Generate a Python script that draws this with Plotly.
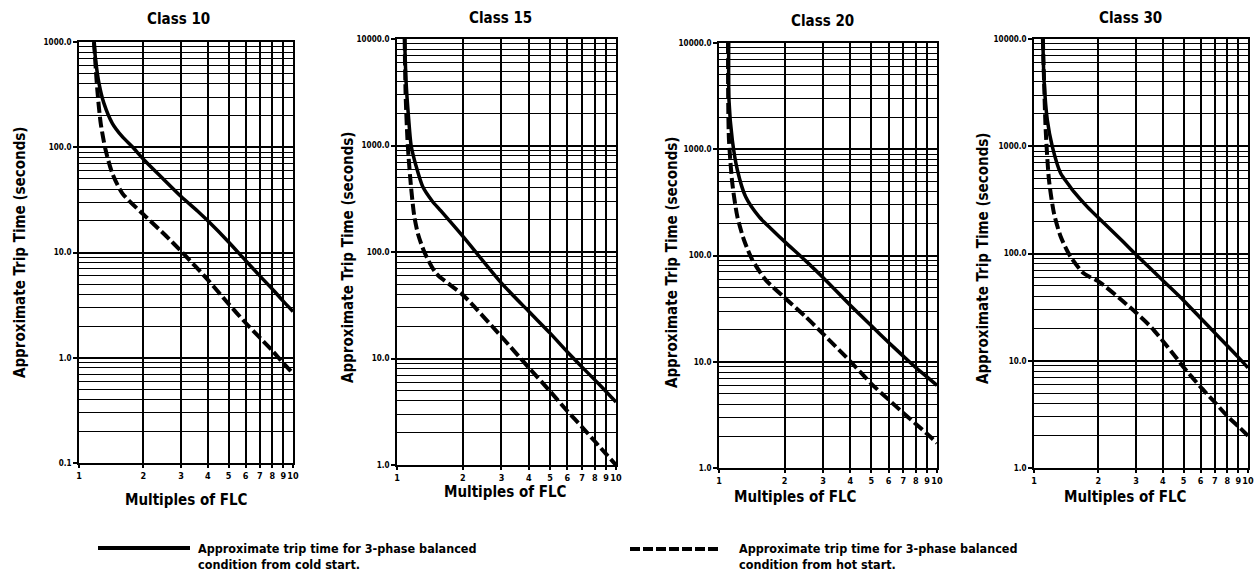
import math
import plotly.graph_objects as go

# ---------------- data ----------------
class_titles = ["Class 10", "Class 15", "Class 20", "Class 30"]

x_tick_vals = [1, 2, 3, 4, 5, 6, 7, 8, 9, 10]
x_tick_text = ["1", "2", "3", "4", "5", "6", "7", "8", "9", "10"]

y_range_c10 = [0.1, 1000]
y_range_c15 = [1, 10000]
y_range_c20 = [1, 10000]
y_range_c30 = [1, 10000]

# Class 10
c10_cold_x = [1.175, 1.196, 1.24, 1.308, 1.431, 1.594, 1.775, 2.0, 2.45, 3.0, 3.64, 4, 5, 6, 7, 8, 9, 10]
c10_cold_y = [1000, 674, 405, 261, 169, 126, 101, 77, 51, 34, 24, 20, 12.6, 8.4, 6.0, 4.5, 3.45, 2.75]
c10_hot_x = [1.175, 1.218, 1.263, 1.332, 1.431, 1.594, 2.0, 2.54, 3, 4, 5, 6, 7, 8, 9, 10]
c10_hot_y = [1000, 350, 169, 94, 56.5, 36.5, 23, 14.5, 10.3, 5.5, 3.25, 2.15, 1.55, 1.17, 0.89, 0.71]

# Class 15
c15_cold_x = [1.084, 1.10, 1.13, 1.16, 1.22, 1.31, 1.45, 1.57, 2, 3, 4, 5, 6, 7, 8, 9, 10]
c15_cold_y = [10000, 4000, 1800, 1000, 650, 412, 300, 249, 140, 51, 27.6, 17.3, 11.5, 8.3, 6.3, 4.9, 3.9]
c15_hot_x = [1.084, 1.095, 1.12, 1.16, 1.2, 1.25, 1.34, 1.51, 2, 3, 4, 5, 6, 7, 8, 9, 10]
c15_hot_y = [10000, 3000, 1000, 400, 215, 145, 97.5, 63, 39.5, 16, 8.2, 4.92, 3.2, 2.27, 1.67, 1.27, 1.0]

# Class 20
c20_cold_x = [1.108, 1.111, 1.151, 1.214, 1.325, 1.526, 1.757, 2, 2.5, 3, 4, 5, 6, 7, 8, 9, 10]
c20_cold_y = [10000, 2910, 1222, 638, 357, 232, 174, 135, 89, 62, 34, 21.8, 15.2, 11.3, 8.8, 7.2, 6.0]
c20_hot_x = [1.1, 1.102, 1.111, 1.151, 1.214, 1.302, 1.422, 1.637, 2, 2.5, 3, 4, 5, 6, 7, 8, 9, 10]
c20_hot_y = [10000, 2900, 1222, 478, 232, 140, 91, 59, 40, 26.5, 18.3, 10.1, 6.2, 4.4, 3.3, 2.6, 2.1, 1.72]

# Class 30
c30_cold_x = [1.10, 1.114, 1.154, 1.218, 1.332, 1.45, 1.538, 1.775, 2.05, 2.54, 3.04, 4, 5, 6, 7, 8, 9, 10]
c30_cold_y = [10000, 4150, 1758, 991, 560, 440, 375, 272, 205, 136, 95, 56, 36.5, 25, 18.2, 13.8, 10.8, 8.6]
c30_hot_x = [1.10, 1.114, 1.134, 1.175, 1.24, 1.332, 1.483, 1.713, 2, 2.5, 3, 3.55, 4, 4.65, 5, 6, 7, 8, 9, 10]
c30_hot_y = [10000, 4150, 1418, 484, 237, 144, 93, 65, 55, 38.5, 28, 20.3, 15.3, 10.5, 8.7, 5.7, 4.1, 3.05, 2.45, 2.0]

legend_cold_text = "Approximate trip time for 3-phase balanced<br>condition from cold start."
legend_hot_text = "Approximate trip time for 3-phase balanced<br>condition from hot start."
x_title = "Multiples of FLC"
y_title = "Approximate Trip Time (seconds)"

# ---------------- layout / styling ----------------
W, H = 1256, 581
FONT = "Liberation Sans Narrow, Arial Narrow, DejaVu Sans Condensed, Liberation Sans, sans-serif"

# panel pixel boxes in page pixels: left, right, top, bottom
boxes = [(79, 293, 42, 463), (397, 616, 39, 465), (719, 937, 43, 468), (1034, 1248, 39, 468)]
title_pos = [(178, 19), (500, 18), (822, 21), (1130, 18)]
xtitle_pos = [(186, 500), (505, 492), (795, 497), (1125, 497)]
ytitle_pos = [(20, 252), (348, 257), (672, 262), (983, 258)]
y_ranges = [y_range_c10, y_range_c15, y_range_c20, y_range_c30]
colds = [(c10_cold_x, c10_cold_y), (c15_cold_x, c15_cold_y), (c20_cold_x, c20_cold_y), (c30_cold_x, c30_cold_y)]
hots = [(c10_hot_x, c10_hot_y), (c15_hot_x, c15_hot_y), (c20_hot_x, c20_hot_y), (c30_hot_x, c30_hot_y)]


def px_x(p):
    return p / W


def px_y(p):
    return 1 - p / H


def decade_vals(lo, hi):
    major, minor = [], []
    v = lo
    while v <= hi * 1.0001:
        major.append(v)
        if v < hi * 0.999:
            for k in range(2, 10):
                minor.append(round(v * k, 6))
        v = round(v * 10, 6)
    return major, minor


def text_ann(text, x, y, size, angle=0, xanchor="center", align="center"):
    return dict(text=text, x=px_x(x), y=px_y(y), xref="paper", yref="paper",
                xanchor=xanchor, yanchor="middle", align=align, showarrow=False, textangle=angle,
                font=dict(family=FONT, size=size, color="black", weight="bold"))


fig = go.Figure()
annotations = []
layout_axes = {}

for i in range(4):
    n = "" if i == 0 else str(i + 1)
    xa, ya = "x" + n, "y" + n
    l, r, t, b = boxes[i]
    cx, cy = colds[i]
    hx, hy = hots[i]
    fig.add_trace(go.Scatter(x=cx, y=cy, xaxis=xa, yaxis=ya, mode="lines", name="cold start",
                             line=dict(color="black", width=3.5, shape="spline", smoothing=0.7),
                             showlegend=False, hoverinfo="x+y", cliponaxis=True))
    fig.add_trace(go.Scatter(x=hx, y=hy, xaxis=xa, yaxis=ya, mode="lines", name="hot start",
                             line=dict(color="black", width=4, dash="11px,4px", shape="spline", smoothing=0.7),
                             showlegend=False, hoverinfo="x+y", cliponaxis=True))

    lo, hi = y_ranges[i]
    major, minor = decade_vals(lo, hi)
    layout_axes["xaxis" + n] = dict(
        type="log", range=[0, 1], domain=[px_x(l), px_x(r)], anchor=ya,
        automargin=False, ticklabeloverflow="allow",
        tickvals=x_tick_vals, ticktext=x_tick_text, tickangle=0,
        tickfont=dict(family=FONT, size=9, color="black", weight="bold"),
        ticks="outside", ticklen=3, tickcolor="black", tickwidth=1.5,
        showgrid=True, gridcolor="black", gridwidth=1.8,
        showline=True, linecolor="black", linewidth=2, mirror=True,
        zeroline=False, fixedrange=True,
    )
    layout_axes["yaxis" + n] = dict(
        type="log", range=[math.log10(lo), math.log10(hi)],
        domain=[px_y(b), px_y(t)], anchor=xa,
        automargin=False, ticklabeloverflow="allow",
        tickvals=major, tickformat=".1f",
        tickfont=dict(family=FONT, size=8, color="black", weight="bold"),
        ticks="outside", ticklen=4, tickcolor="black", tickwidth=1.5,
        showgrid=True, gridcolor="black", gridwidth=2,
        minor=dict(tickvals=minor, showgrid=True, gridcolor="black", gridwidth=1.2, ticks=""),
        showline=True, linecolor="black", linewidth=2, mirror=True,
        zeroline=False, fixedrange=True,
    )
    tx, ty = title_pos[i]
    annotations.append(text_ann(class_titles[i], tx, ty, 15))
    xx, xy = xtitle_pos[i]
    annotations.append(text_ann(x_title, xx, xy, 15))
    yx, yy = ytitle_pos[i]
    annotations.append(text_ann(y_title, yx, yy, 15, angle=-90))

# legend (drawn manually to match the long line samples of the reference)
shapes = [
    dict(type="line", xref="paper", yref="paper", x0=px_x(98), x1=px_x(190), y0=px_y(548), y1=px_y(548),
         line=dict(color="black", width=4)),
    dict(type="line", xref="paper", yref="paper", x0=px_x(630), x1=px_x(720), y0=px_y(549), y1=px_y(549),
         line=dict(color="black", width=4, dash="10px,3px")),
]
annotations.append(text_ann(legend_cold_text, 196, 556, 12.5, xanchor="left", align="left"))
annotations.append(text_ann(legend_hot_text, 737, 556, 12.5, xanchor="left", align="left"))

fig.update_layout(
    width=W, height=H, autosize=False,
    margin=dict(l=0, r=0, t=0, b=0, pad=0, autoexpand=False),
    paper_bgcolor="white", plot_bgcolor="white",
    font=dict(family=FONT, color="black"),
    showlegend=False,
    annotations=annotations, shapes=shapes,
    **layout_axes,
)

fig.write_html(
    "out.html",
    config={"displayModeBar": False},
    post_script="document.body.style.margin='0';document.body.style.overflow='hidden';",
)
